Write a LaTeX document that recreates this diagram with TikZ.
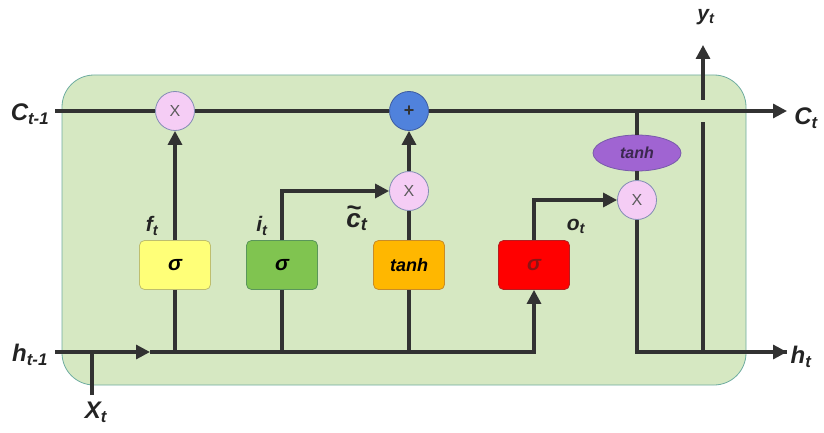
\documentclass[tikz,border=0pt]{standalone}
\usepackage{fontspec}
\setmainfont{Liberation Sans}
\usetikzlibrary{arrows.meta,shapes.geometric}
\definecolor{cellbg}{RGB}{214,232,194}
\definecolor{cellbd}{RGB}{110,172,160}
\definecolor{ln}{RGB}{50,50,50}
\definecolor{ygate}{RGB}{255,255,120}
\definecolor{ygatebd}{RGB}{190,190,110}
\definecolor{ggate}{RGB}{128,196,80}
\definecolor{ggatebd}{RGB}{90,150,90}
\definecolor{ogate}{RGB}{255,183,0}
\definecolor{ogatebd}{RGB}{200,140,40}
\definecolor{rgate}{RGB}{255,0,0}
\definecolor{rgatebd}{RGB}{180,30,30}
\definecolor{rtext}{RGB}{140,20,20}
\definecolor{pinkc}{RGB}{245,205,245}
\definecolor{pinkbd}{RGB}{130,140,180}
\definecolor{bluec}{RGB}{80,130,220}
\definecolor{bluebd}{RGB}{60,90,160}
\definecolor{purp}{RGB}{160,100,210}
\definecolor{purpbd}{RGB}{120,90,170}
\definecolor{purptext}{RGB}{60,40,80}
\newcommand\lb[2]{{\bfseries\itshape #1\textsubscript{#2}}}
\newcommand\ctilde{\ooalign{c\cr\hidewidth\raisebox{0.42em}{\char"7E}\hidewidth\cr}}
\begin{document}
\begin{tikzpicture}[x=1pt,y=-1pt,
  conn/.style={draw=ln,line width=3.2pt},
  arr/.style={conn,-{Triangle[length=14pt,width=14pt]}},
  gatebox/.style={rectangle,rounded corners=5pt,minimum width=71pt,minimum height=49pt,line width=0.8pt,font=\bfseries\itshape\fontsize{21}{21}\selectfont},
  multc/.style={circle,fill=pinkc,draw=pinkbd,line width=0.8pt,minimum size=39pt,inner sep=0pt,text=ln!80,font=\fontsize{16}{16}\selectfont},
  plusc/.style={circle,fill=bluec,draw=bluebd,line width=0.8pt,minimum size=39pt,inner sep=0pt,text=ln,font=\bfseries\fontsize{18}{18}\selectfont},
  lbl/.style={text=ln!70!black,inner sep=0pt,font=\fontsize{21}{21}\selectfont},
  biglbl/.style={text=ln!70!black,inner sep=0pt,font=\fontsize{24}{24}\selectfont}
]
\useasboundingbox (0,0) rectangle (824,433);
\fill[cellbg,draw=cellbd,line width=0.8pt,rounded corners=32pt] (62,75) rectangle (746,385);

% nodes
\node[multc] (fx) at (175,111) {X};
\node[plusc] (add) at (409,111) {+};
\node[multc] (ix) at (409,191) {X};
\node[multc] (ox) at (637,200) {X};
\node[ellipse,fill=purp,draw=purpbd,line width=0.8pt,minimum width=88pt,minimum height=36pt,inner sep=0pt,text=purptext,font=\bfseries\itshape\fontsize{16}{16}\selectfont] (tc) at (637,153) {tanh};
\node[gatebox,fill=ygate,draw=ygatebd] (fg) at (175,265) {σ};
\node[gatebox,fill=ggate,draw=ggatebd] (ig) at (282,265) {σ};
\node[gatebox,fill=ogate,draw=ogatebd,font=\bfseries\itshape\fontsize{18}{18}\selectfont] (tg) at (409,265) {tanh};
\node[gatebox,fill=rgate,draw=rgatebd,text=rtext] (og) at (534,265) {σ};

\coordinate (cin) at (55,111);
\coordinate (cout) at (787,111);
\coordinate (hin) at (55,352);
\coordinate (harr) at (150,352);
\coordinate (hout) at (787,352);
\coordinate (xin) at (92,395);
\coordinate (ygb) at (703,122);
\coordinate (ygt) at (703,100);
\coordinate (yout) at (703,45);

% cell state line
\draw[conn] (cin) -- (fx.west);
\draw[conn] (fx.east) -- (add.west);
\draw[arr] (add.east) -- (cout);
% output tanh branch
\draw[conn] (tc.north |- cin) -- (tc.north);
\draw[conn] (tc.south) -- (ox.north);
\draw[conn] (ox.south) -- (ox.south |- hout) -- (hout);
\draw[arr] (ox.south |- hout) -- (hout);
% y output
\draw[conn] (ygb |- hout) -- (ygb);
\draw[arr] (ygt) -- (yout);
% input line
\draw[arr] (hin) -- (harr);
\draw[conn] (harr) -- (og.south |- hin) -- ++(0,-20);
\draw[arr] (og.south |- hin) -- (og.south);
\draw[conn] (xin) -- (xin |- hin);
% gates
\draw[conn] (fg.south) -- (fg.south |- hin);
\draw[arr] (fg.north) -- (fx.south);
\draw[conn] (ig.south) -- (ig.south |- hin);
\draw[arr] (ig.north) -- (ig.north |- ix) -- (ix.west);
\draw[conn] (tg.south) -- (tg.south |- hin);
\draw[conn] (tg.north) -- (ix.south);
\draw[arr] (ix.north) -- (add.south);
\draw[arr] (og.north) -- (og.north |- ox) -- (ox.west);

% labels
\node[biglbl] (lc1) at (30,114) {\lb{C}{t-1}};
\node[biglbl] (lc2) at (806,118) {\lb{C}{t}};
\node[biglbl] (lh1) at (30,355) {\lb{h}{t-1}};
\node[biglbl] (lh2) at (801,357) {\lb{h}{t}};
\node[biglbl] (lx) at (96,412) {\lb{X}{t}};
\node[lbl] (ly) at (706,17) {\lb{y}{t}};
\node[lbl] (lf) at (152,226) {\lb{f}{t}};
\node[lbl] (li) at (262,226) {\lb{i}{t}};
\node[biglbl,font=\fontsize{26}{26}\selectfont] (lct) at (357,222) {\lb{\ctilde}{t}};
\node[lbl] (lo) at (576,226) {\lb{o}{t}};
\end{tikzpicture}
\end{document}
